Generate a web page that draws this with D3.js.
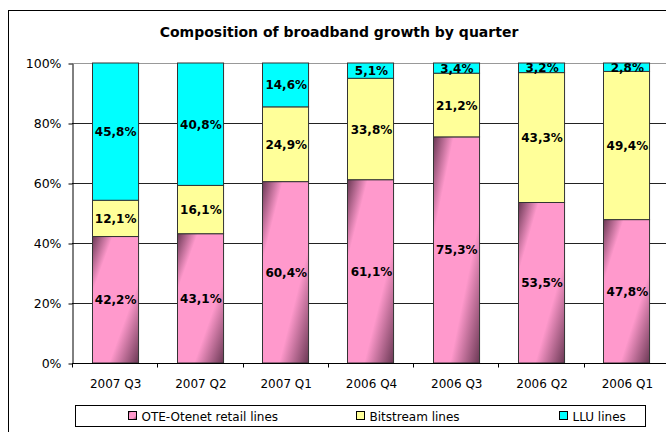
<!DOCTYPE html>
<html>
<head>
<meta charset="utf-8">
<script src="https://cdn.jsdelivr.net/npm/d3@7"></script>
<style>
  body { margin: 0; background: #fff; }
  svg { display: block; font-family: "DejaVu Sans", sans-serif; }
</style>
</head>
<body>
<svg id="chart"></svg>
<script>
// Chart data.
const quarters = ["2007 Q3", "2007 Q2", "2007 Q1", "2006 Q4", "2006 Q3", "2006 Q2", "2006 Q1"];
const retail = [42.2, 43.1, 60.4, 61.1, 75.3, 53.5, 47.8];
const bitstream = [12.1, 16.1, 24.9, 33.8, 21.2, 43.3, 49.4];
const llu = [45.8, 40.8, 14.6, 5.1, 3.4, 3.2, 2.8];
const seriesNames = ["OTE-Otenet retail lines", "Bitstream lines", "LLU lines"];
const yTicks = [0, 0.2, 0.4, 0.6, 0.8, 1];

const width = 666;
const height = 432;
const margin = { top: 63, bottom: 69, left: 72, right: -3 };

const svg = d3.select("#chart").attr("width", width).attr("height", height);

function translate(x, y) {
  return "translate(" + String(x) + "," + String(y) + ")";
}

// Pink gradient used for the retail series.
const defs = svg.append("defs");
const grad = defs.append("linearGradient")
  .attr("id", "pink")
  .attr("x1", 0).attr("y1", 0).attr("x2", 1).attr("y2", 1);
[[0, "#6a3854"], [0.22, "#ff99cc"], [0.68, "#ff99cc"], [1, "#6a3854"]].forEach(s => {
  grad.append("stop").attr("offset", s[0]).attr("stop-color", s[1]);
});
const fills = ["url(#pink)", "#ffff99", "#00ffff"];

// Outer chart frame.
svg.append("rect")
  .attr("x", 8.5).attr("y", 10.5)
  .attr("width", 700).attr("height", 500)
  .attr("fill", "none").attr("stroke", "#000");

// Title.
svg.append("text")
  .attr("x", 339).attr("y", 37)
  .attr("text-anchor", "middle")
  .attr("font-weight", "bold")
  .attr("font-size", 14)
  .text("Composition of broadband growth by quarter");

const xScale = d3.scaleBand()
  .domain(quarters)
  .range([margin.left, width - margin.right])
  .paddingInner(0.46)
  .paddingOuter(0.23);

const yScale = d3.scaleLinear()
  .domain([0, 1])
  .range([height - margin.bottom, margin.top]);

// Gridlines.
svg.append("g").selectAll("line")
  .data(yTicks.slice(1))
  .enter().append("line")
  .attr("x1", margin.left).attr("x2", width + 10)
  .attr("y1", d => Math.round(yScale(d)) + 0.5)
  .attr("y2", d => Math.round(yScale(d)) + 0.5)
  .attr("stroke", d => d === 1 ? "#999" : "#222");

// Stacked bars.
const table = quarters.map((q, i) => ({ q: q, s0: retail[i], s1: bitstream[i], s2: llu[i] }));
const stack = d3.stack().keys(["s0", "s1", "s2"]).offset(d3.stackOffsetExpand);
const layers = stack(table);

const bars = svg.append("g").selectAll("g")
  .data(layers)
  .enter().append("g")
  .attr("fill", (d, i) => fills[i]);

bars.selectAll("rect")
  .data(d => d)
  .enter().append("rect")
  .attr("x", d => Math.round(xScale(d.data.q)) + 0.5)
  .attr("y", d => yScale(d[1]))
  .attr("width", xScale.bandwidth())
  .attr("height", d => yScale(d[0]) - yScale(d[1]))
  .attr("stroke", "#333")
  .attr("stroke-width", 1);

// Value labels.
const fmt = v => v.toFixed(1).replace(".", ",") + "%";
layers.forEach((layer, k) => {
  svg.append("g").selectAll("text")
    .data(layer)
    .enter().append("text")
    .attr("x", d => xScale(d.data.q) + xScale.bandwidth() / 2 + 1)
    .attr("y", d => (yScale(d[0]) + yScale(d[1])) / 2)
    .attr("dy", "0.38em")
    .attr("text-anchor", "middle")
    .attr("font-weight", "bold")
    .attr("font-size", 12)
    .text(d => fmt(d.data[layer.key]));
});

// Axes.
const yAxis = d3.axisLeft(yScale)
  .tickValues(yTicks)
  .tickFormat(d3.format(".0%"))
  .tickSize(4)
  .tickSizeOuter(0);

const yG = svg.append("g")
  .attr("transform", translate(margin.left + 0.5, 0.5))
  .call(yAxis);
yG.select(".domain").attr("stroke", "#000");
yG.selectAll("text").attr("font-size", 12.5).attr("fill", "#000")
  .attr("font-family", "DejaVu Sans").attr("x", -11);

const xG = svg.append("g")
  .attr("transform", translate(0, Math.round(yScale(0)) + 0.5));
xG.append("line")
  .attr("x1", margin.left).attr("x2", width + 10)
  .attr("stroke", "#000");
xG.selectAll(".tick")
  .data(quarters.concat([null]))
  .enter().append("line")
  .attr("x1", (d, i) => Math.round(margin.left + i * xScale.step()) + 0.5)
  .attr("x2", (d, i) => Math.round(margin.left + i * xScale.step()) + 0.5)
  .attr("y1", 0).attr("y2", 4)
  .attr("stroke", "#000");
xG.selectAll("text")
  .data(quarters)
  .enter().append("text")
  .attr("x", d => xScale(d) + xScale.bandwidth() / 2 + 1)
  .attr("y", 24)
  .attr("text-anchor", "middle")
  .attr("font-size", 12)
  .text(d => d);

// Legend.
const legend = svg.append("g").attr("transform", translate(75.5, 405.5));
legend.append("rect")
  .attr("width", 570).attr("height", 21)
  .attr("fill", "#fff").attr("stroke", "#000");
const legendX = [53, 281, 484];
seriesNames.forEach((name, i) => {
  legend.append("rect")
    .attr("x", legendX[i]).attr("y", 6)
    .attr("width", 8).attr("height", 8)
    .attr("fill", fills[i]).attr("stroke", "#000");
  legend.append("text")
    .attr("x", legendX[i] + 13).attr("y", 15)
    .attr("font-size", 12)
    .text(name);
});
</script>
</body>
</html>
